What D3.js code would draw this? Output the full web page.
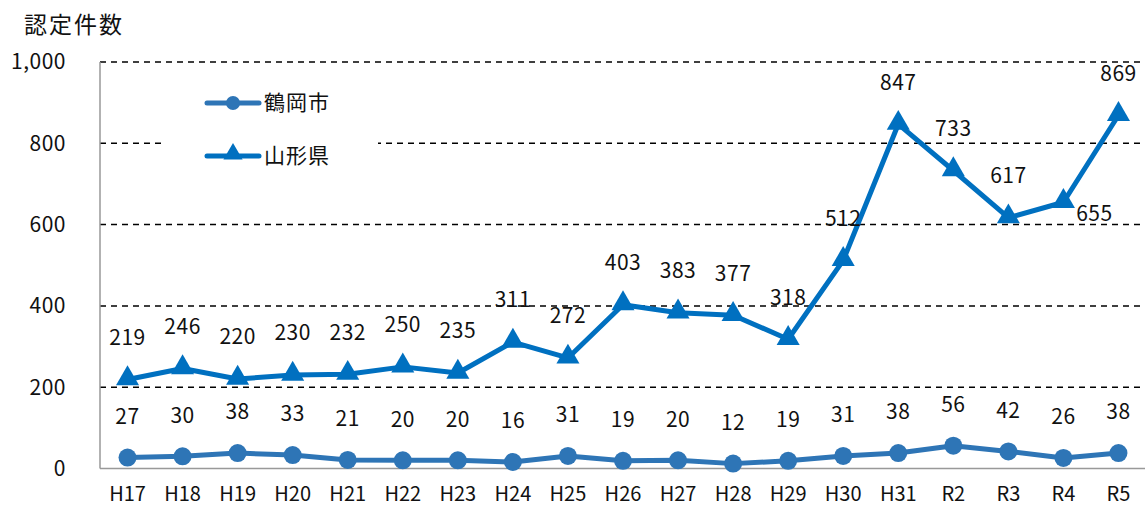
<!DOCTYPE html>
<html lang="ja">
<head>
<meta charset="utf-8">
<script src="https://cdn.jsdelivr.net/npm/d3@7"></script>
<style>
  html, body { margin: 0; padding: 0; background: #fff; }
  svg { display: block; font-family: "Noto Sans CJK JP", "Noto Sans", sans-serif; }
</style>
</head>
<body>
<svg id="chart" width="1145" height="506"></svg>
<script>
// 年度
const categories = ["H17","H18","H19","H20","H21","H22","H23","H24","H25","H26","H27","H28","H29","H30","H31","R2","R3","R4","R5"];
// 鶴岡市の認定件数
const tsuruoka = [27,30,38,33,21,20,20,16,31,19,20,12,19,31,38,56,42,26,38];
// 山形県の認定件数
const yamagata = [219,246,220,230,232,250,235,311,272,403,383,377,318,512,847,733,617,655,869];
// 目盛
const yTicks = [0,200,400,600,800,1000];
const yTickLabels = ["0","200","400","600","800","1,000"];

const svg = d3.select("#chart");
const plotLeft = 100, plotRight = 1146, plotTop = 62, plotBottom = 468.5;

const x = d3.scaleBand().domain(categories).range([plotLeft, plotRight]);
const y = d3.scaleLinear().domain([0, 1000]).range([plotBottom, plotTop]);
const cx = c => x(c) + x.bandwidth() / 2;

const colTsuruoka = "#2E75B6";
const colYamagata = "#0070C0";

// 目盛線
svg.append("g").selectAll("line")
  .data(yTicks.filter(d => d > 0))
  .join("line")
  .attr("x1", plotLeft).attr("x2", 1145)
  .attr("y1", d => y(d)).attr("y2", d => y(d))
  .attr("stroke", "#000").attr("stroke-width", 1.5)
  .attr("stroke-dasharray", "6,5");

// 軸
svg.append("line").attr("x1", plotLeft).attr("x2", plotLeft).attr("y1", plotTop).attr("y2", plotBottom)
  .attr("stroke", "#999").attr("stroke-width", 1.5);
svg.append("line").attr("x1", plotLeft).attr("x2", 1145).attr("y1", plotBottom).attr("y2", plotBottom)
  .attr("stroke", "#999").attr("stroke-width", 1.5);

// Y目盛ラベル
svg.append("g").selectAll("text")
  .data(yTicks)
  .join("text")
  .attr("x", 66).attr("y", d => y(d))
  .attr("dy", "0.35em")
  .attr("text-anchor", "end")
  .attr("font-size", 21)
  .attr("letter-spacing", 0.5)
  .attr("fill", "#111")
  .text((d, i) => yTickLabels[i]);

// X目盛ラベル
svg.append("g").selectAll("text")
  .data(categories)
  .join("text")
  .attr("x", d => cx(d)).attr("y", 494)
  .attr("dy", "0.35em")
  .attr("text-anchor", "middle")
  .attr("font-size", 20)
  .attr("fill", "#111")
  .text(d => d);

// 縦軸タイトル
svg.append("text").attr("x", 24).attr("y", 25).attr("dy", "0.35em")
  .attr("font-size", 23).attr("letter-spacing", 2).attr("fill", "#111").text("認定件数");

const line = d3.line().x((d, i) => cx(categories[i])).y(d => y(d));
const tri = d3.symbol().type(d3.symbolTriangle).size(230);

// 山形県
svg.append("path").datum(yamagata).attr("d", line)
  .attr("fill", "none").attr("stroke", colYamagata).attr("stroke-width", 5)
  .attr("stroke-linejoin", "round");
svg.append("g").selectAll("path")
  .data(yamagata)
  .join("path")
  .attr("d", tri)
  .attr("transform", (d, i) => `translate(${cx(categories[i])},${y(d) - 1})`)
  .attr("fill", colYamagata);

// 鶴岡市
svg.append("path").datum(tsuruoka).attr("d", line)
  .attr("fill", "none").attr("stroke", colTsuruoka).attr("stroke-width", 5)
  .attr("stroke-linejoin", "round");
svg.append("g").selectAll("circle")
  .data(tsuruoka)
  .join("circle")
  .attr("cx", (d, i) => cx(categories[i])).attr("cy", d => y(d))
  .attr("r", 9).attr("fill", colTsuruoka);

// データラベル
const labelOffset = { 17: [31, 11] };
svg.append("g").selectAll("text")
  .data(yamagata)
  .join("text")
  .attr("x", (d, i) => cx(categories[i]) + (labelOffset[i] ? labelOffset[i][0] : 0))
  .attr("y", (d, i) => y(d) + (labelOffset[i] ? labelOffset[i][1] : -42))
  .attr("dy", "0.35em")
  .attr("text-anchor", "middle")
  .attr("font-size", 21).attr("letter-spacing", 0.5).attr("fill", "#111")
  .text(d => d);
svg.append("g").selectAll("text")
  .data(tsuruoka)
  .join("text")
  .attr("x", (d, i) => cx(categories[i]))
  .attr("y", d => y(d) - 41)
  .attr("dy", "0.35em")
  .attr("text-anchor", "middle")
  .attr("font-size", 21).attr("letter-spacing", 0.5).attr("fill", "#111")
  .text(d => d);

// 凡例
const legend = svg.append("g");
legend.append("rect").attr("x", 165).attr("y", 82).attr("width", 213).attr("height", 92)
  .attr("fill", "#fff");
const items = [
  { name: "鶴岡市", color: colTsuruoka, shape: "circle", yy: 103 },
  { name: "山形県", color: colYamagata, shape: "triangle", yy: 156 }
];
items.forEach(it => {
  legend.append("line").attr("x1", 207).attr("x2", 259).attr("y1", it.yy).attr("y2", it.yy)
    .attr("stroke", it.color).attr("stroke-width", 5).attr("stroke-linecap", "round");
  if (it.shape === "circle") {
    legend.append("circle").attr("cx", 233).attr("cy", it.yy).attr("r", 7).attr("fill", it.color);
  } else {
    legend.append("path").attr("d", d3.symbol().type(d3.symbolTriangle).size(160))
      .attr("transform", `translate(233,${it.yy - 2})`).attr("fill", it.color);
  }
  legend.append("text").attr("x", 264).attr("y", it.yy).attr("dy", "0.35em")
    .attr("font-size", 21).attr("letter-spacing", 1).attr("fill", "#111").text(it.name);
});
</script>
</body>
</html>
